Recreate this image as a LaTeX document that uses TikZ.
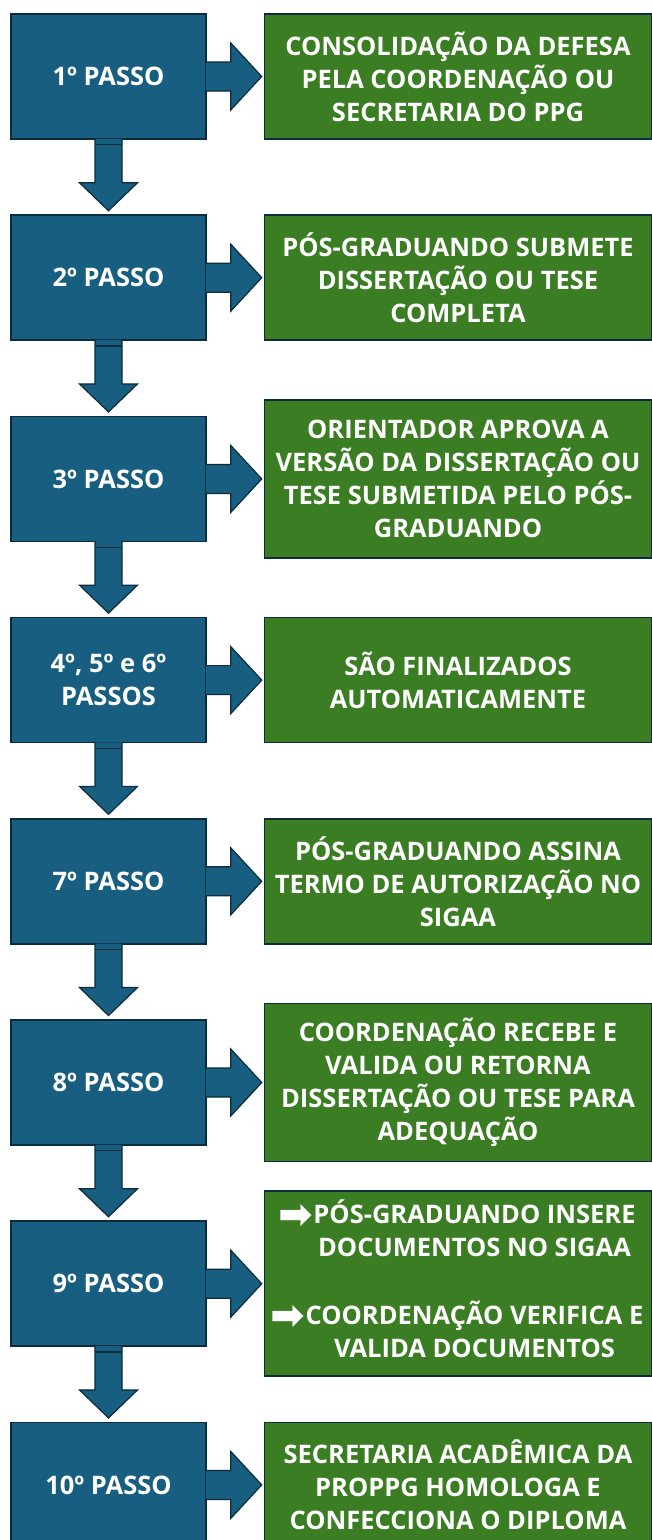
\documentclass[tikz,border=0pt]{standalone}
\usepackage{fontspec}
\usepackage{graphicx}
\setmainfont{Open Sans}
\newfontfamily\setafont{DejaVu Sans}
\usetikzlibrary{positioning}
\definecolor{passoazul}{HTML}{185E80}
\definecolor{acaoverde}{HTML}{3B7D23}
\definecolor{borda}{HTML}{0C2B3B}
\newcommand{\seta}{\makebox[33pt][l]{\hspace{-2pt}\raisebox{-5pt}{\resizebox{!}{24pt}{\setafont ➡}}}}

\begin{document}
\begin{tikzpicture}[x=1pt, y=-1pt, node distance={74.7pt and 57pt},
    passo/.style={rectangle, draw=borda, fill=passoazul, line width=1.5pt, minimum width=195pt, minimum height=125pt, inner sep=2pt, text=white, align=center, font=\bfseries\fontsize{25.5}{32.5}\selectfont},
    acao/.style={rectangle, draw=borda, fill=acaoverde, line width=1.5pt, minimum width=387pt, minimum height=125pt, inner sep=2pt, text=white, align=center, font=\bfseries\fontsize{25.5}{33}\selectfont},
    setabloco/.style={fill=passoazul, draw=borda, line width=1.2pt, line join=miter}]
      \useasboundingbox (0,0) rectangle (652,1540);

      \node[passo] (s1) at (108.5,76.5) {1º PASSO};
      \node[passo] (s2) [below=of s1] {2º PASSO};
      \node[passo] (s3) [below=of s2] {3º PASSO};
      \node[passo] (s4) [below=of s3] {4º, 5º e 6º\\PASSOS};
      \node[passo] (s5) [below=of s4] {7º PASSO};
      \node[passo] (s6) [below=of s5] {8º PASSO};
      \node[passo] (s7) [below=of s6] {9º PASSO};
      \node[passo] (s8) [below=of s7] {10º PASSO};

      \node[acao] (a1) [right=of s1] {CONSOLIDAÇÃO DA DEFESA\\PELA COORDENAÇÃO OU\\SECRETARIA DO PPG};
      \node[acao] (a2) [right=of s2] {PÓS-GRADUANDO SUBMETE\\DISSERTAÇÃO OU TESE\\COMPLETA};
      \node[acao, minimum height=158pt] (a3) [right=of s3] {ORIENTADOR APROVA A\\VERSÃO DA DISSERTAÇÃO OU\\TESE SUBMETIDA PELO PÓS-\\GRADUANDO};
      \node[acao] (a4) [right=of s4] {SÃO FINALIZADOS\\AUTOMATICAMENTE};
      \node[acao] (a5) [right=of s5] {PÓS-GRADUANDO ASSINA\\TERMO DE AUTORIZAÇÃO NO\\SIGAA};
      \node[acao, minimum height=158pt] (a6) [right=of s6] {COORDENAÇÃO RECEBE E\\VALIDA OU RETORNA\\DISSERTAÇÃO OU TESE PARA\\ADEQUAÇÃO};
      \node[acao, minimum height=185pt] (a7) [right=of s7] {%
        \begin{tabular}{@{}l@{}c@{}}
          \seta & PÓS-GRADUANDO INSERE\\
                & DOCUMENTOS NO SIGAA
        \end{tabular}\\[34pt]
        \begin{tabular}{@{}l@{}c@{}}
          \seta & COORDENAÇÃO VERIFICA E\\
                & VALIDA DOCUMENTOS
        \end{tabular}};
      \node[acao] (a8) [right=of s8] {SECRETARIA ACADÊMICA DA\\PROPPG HOMOLOGA E\\CONFECCIONA O DIPLOMA};

      % setas de cada passo para a acao
      \foreach \n in {1,...,8}{
        \draw[setabloco, shift={(s\n.east)}] (-1,-14.5) -- (24,-14.5) -- (24,-33.5) -- (55,0) -- (24,33.5) -- (24,14.5) -- (-1,14.5);
      }
      % setas entre os passos
      \foreach \n in {1,...,7}{
        \draw[setabloco, shift={(s\n.south)}] (-13.5,-1) -- (-13.5,43) -- (-29,43) -- (0,71) -- (29,43) -- (13.5,43) -- (13.5,-1);
        \draw[borda, line width=1.2pt, shift={(s\n.south)}] (-13.5,5) -- (13.5,5);
      }
\end{tikzpicture}
\end{document}
